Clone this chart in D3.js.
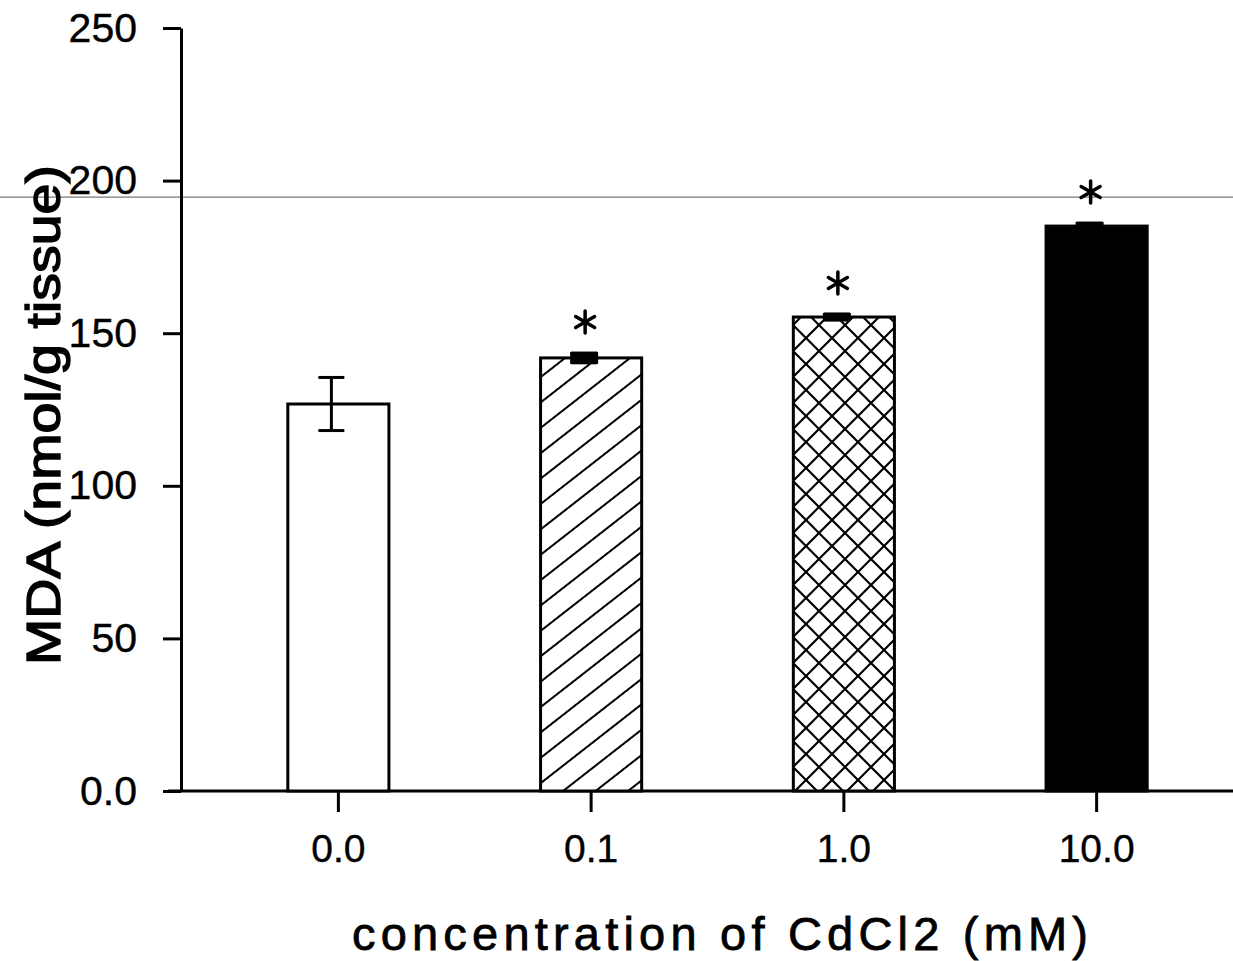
<!DOCTYPE html>
<html>
<head>
<meta charset="utf-8">
<script src="https://cdn.jsdelivr.net/npm/d3@7"></script>
<style>
  body { margin: 0; background: #fff; }
  text { font-family: "Liberation Sans", Arial, Helvetica, sans-serif; fill: #000; }
  .axis path, .axis line { stroke: #000; stroke-width: 3; }
  .axis text { font-size: 39px; }
  .y-axis text { font-size: 41px; }
</style>
</head>
<body>
<div id="chart"></div>
<script>
// data
var concentrations = ["0.0", "0.1", "1.0", "10.0"];
var mdaMean = [126.8, 141.9, 155.3, 185.1];
var mdaErr = [8.7, 1.6, 1.0, 1.0];
var significant = [false, true, true, true];
var barFills = ["white", "url(#hatch)", "url(#cross)", "black"];
var yTicks = [0, 50, 100, 150, 200, 250];
var yTickLabels = ["0.0", "50", "100", "150", "200", "250"];
var scanLineValue = 194.6; // stray scan line across the page

var width = 1233, height = 961;

var svg = d3.select("#chart")
  .append("svg")
  .attr("width", width)
  .attr("height", height);

// fill patterns
var defs = svg.append("defs");

defs.append("pattern")
  .attr("id", "hatch")
  .attr("patternUnits", "userSpaceOnUse")
  .attr("width", 20)
  .attr("height", 20)
  .attr("patternTransform", "rotate(-38)")
  .call(function(p) {
    p.append("rect").attr("width", 20).attr("height", 20).attr("fill", "white");
    p.append("line")
      .attr("x1", 0).attr("x2", 20)
      .attr("y1", 10).attr("y2", 10)
      .attr("stroke", "black")
      .attr("stroke-width", 2);
  });

defs.append("pattern")
  .attr("id", "cross")
  .attr("patternUnits", "userSpaceOnUse")
  .attr("width", 26)
  .attr("height", 26)
  .call(function(p) {
    p.append("rect").attr("width", 26).attr("height", 26).attr("fill", "white");
    p.append("path")
      .attr("d", "M-2,-2L28,28M28,-2L-2,28")
      .attr("stroke", "black")
      .attr("stroke-width", 2.2);
  });

// scales
var x = d3.scaleBand()
  .domain(concentrations)
  .range([212, 1223])
  .paddingInner(0.6)
  .paddingOuter(0.3);

var y = d3.scaleLinear()
  .domain([0, 250])
  .range([791, 28]);

var axisX = 181;

// stray horizontal line from the scan
svg.append("line")
  .attr("x1", 0)
  .attr("x2", width)
  .attr("y1", y(scanLineValue))
  .attr("y2", y(scanLineValue))
  .attr("stroke", "#777")
  .attr("stroke-width", 1.3);

// y axis
var yAxis = d3.axisLeft(y)
  .tickValues(yTicks)
  .tickFormat(function(d, i) { return yTickLabels[i]; })
  .tickSizeInner(18)
  .tickSizeOuter(0)
  .tickPadding(26);

svg.append("g")
  .attr("class", "axis y-axis")
  .attr("transform", "translate(" + axisX + ",0)")
  .call(yAxis);

// x axis
var xAxis = d3.axisBottom(x)
  .tickSizeInner(21)
  .tickSizeOuter(0)
  .tickPadding(22);

var gx = svg.append("g")
  .attr("class", "axis x-axis")
  .attr("transform", "translate(0," + y(0) + ")")
  .call(xAxis);

gx.select(".domain").remove();
gx.append("line")
  .attr("x1", 168)
  .attr("x2", width)
  .attr("y1", 0)
  .attr("y2", 0)
  .attr("stroke", "black")
  .attr("stroke-width", 3);

svg.selectAll(".axis text")
  .attr("font-family", "Liberation Sans, Arial, sans-serif")
  .attr("stroke", "black")
  .attr("stroke-width", 0.4);

// bars
svg.selectAll("rect.bar")
  .data(concentrations)
  .enter()
  .append("rect")
  .attr("class", "bar")
  .attr("x", function(d) { return x(d); })
  .attr("y", function(d, i) { return y(mdaMean[i]); })
  .attr("width", x.bandwidth())
  .attr("height", function(d, i) { return y(0) - y(mdaMean[i]); })
  .attr("fill", function(d, i) { return barFills[i]; })
  .attr("stroke", "black")
  .attr("stroke-width", 3);

// error bars (sit a little left of centre in the scan)
var errShift = -7;
var capHalf = 13;

function cx(d) { return x(d) + x.bandwidth() / 2 + errShift; }
function hi(d) { var i = concentrations.indexOf(d); return y(mdaMean[i] + mdaErr[i]); }
function lo(d) { var i = concentrations.indexOf(d); return y(mdaMean[i] - mdaErr[i]); }

var err = svg.selectAll("g.err")
  .data(concentrations)
  .enter()
  .append("g")
  .attr("class", "err")
  .attr("stroke", "black")
  .attr("stroke-width", 3);

err.append("line")
  .attr("x1", cx)
  .attr("x2", cx)
  .attr("y1", hi)
  .attr("y2", lo);

err.append("line")
  .attr("x1", function(d) { return cx(d) - capHalf; })
  .attr("x2", function(d) { return cx(d) + capHalf; })
  .attr("y1", hi)
  .attr("y2", hi);

err.append("line")
  .attr("x1", function(d) { return cx(d) - capHalf; })
  .attr("x2", function(d) { return cx(d) + capHalf; })
  .attr("y1", lo)
  .attr("y2", lo);

// small blobs for tiny error bars
err.filter(function(d) { return mdaErr[concentrations.indexOf(d)] < 3; })
  .append("rect")
  .attr("x", function(d) { return cx(d) - capHalf; })
  .attr("y", hi)
  .attr("width", capHalf * 2)
  .attr("height", function(d) { return lo(d) - hi(d); })
  .attr("fill", "black")
  .attr("stroke-width", 2);

// significance asterisks
var star = "M0,-11L0,11M-9.5,-5.5L9.5,5.5M-9.5,5.5L9.5,-5.5";
svg.selectAll("path.star")
  .data(concentrations.filter(function(d, i) { return significant[i]; }))
  .enter()
  .append("path")
  .attr("class", "star")
  .attr("d", star)
  .attr("transform", function(d) {
    return "translate(" + (cx(d) + 1) + "," + (hi(d) - 31) + ")";
  })
  .attr("stroke", "black")
  .attr("stroke-width", 3.5)
  .attr("stroke-linecap", "round");

// axis titles
svg.append("text")
  .text("concentration of CdCl2 (mM)")
  .attr("x", 352)
  .attr("y", 950)
  .attr("font-size", 47)
  .attr("stroke", "black")
  .attr("stroke-width", 0.8)
  .attr("textLength", 736)
  .attr("lengthAdjust", "spacing");

svg.append("text")
  .text("MDA (nmol/g tissue)")
  .attr("transform", "translate(60,665) rotate(-90)")
  .attr("x", 0)
  .attr("y", 0)
  .attr("font-size", 48)
  .attr("stroke", "black")
  .attr("stroke-width", 1.4)
  .attr("textLength", 500)
  .attr("lengthAdjust", "spacingAndGlyphs");
</script>
</body>
</html>
